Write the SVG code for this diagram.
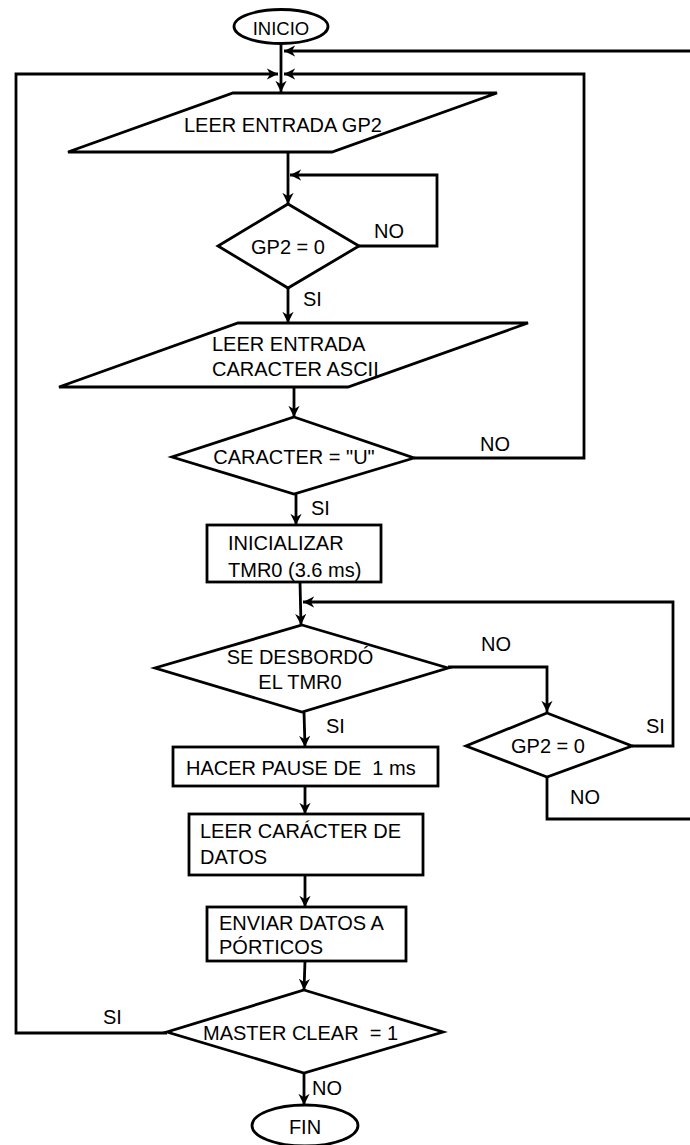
<svg xmlns="http://www.w3.org/2000/svg" width="690" height="1145" viewBox="0 0 690 1145">
<defs>
<marker id="ah" viewBox="0 0 10 10" refX="10" refY="5" markerWidth="4" markerHeight="4" orient="auto" markerUnits="strokeWidth">
<path d="M0,0 L10,5 L0,10 L3,5 z" fill="#000"/>
</marker>
<style>
.s{fill:#fff;stroke:#000;stroke-width:2.8}
.c{fill:none;stroke:#000;stroke-width:2.8}
.a{marker-end:url(#ah)}
text{font-family:"Liberation Sans",Arial,sans-serif;font-size:20px;fill:#000;white-space:pre}
.m{text-anchor:middle}
</style>
</defs>
<rect width="690" height="1145" fill="#fff"/>
<g id="connectors">
<path class="c a" d="M281,44 L281,92"/>
<path class="c a" d="M690,51 L284,51"/>
<path class="c a" d="M167,1033 L16,1033 L16,74 L278,74"/>
<path class="c a" d="M414,458 L584,458 L584,74 L284,74"/>
<path class="c a" d="M288,152 L288,204"/>
<path class="c a" d="M359,246 L437,246 L437,175 L290,175"/>
<path class="c a" d="M288,288 L288,323"/>
<path class="c a" d="M294,387 L294,417"/>
<path class="c a" d="M296,494 L296,525"/>
<path class="c a" d="M300,582 L301,625"/>
<path class="c a" d="M632,746 L673,746 L673,602 L303,602"/>
<path class="c a" d="M448,667 L547,667 L547,712"/>
<path class="c" d="M547,777 L547,819 L690,819"/>
<path class="c a" d="M304,712 L305,747"/>
<path class="c a" d="M305,786 L305,814"/>
<path class="c a" d="M305,875 L305,907"/>
<path class="c a" d="M305,961 L304,990"/>
<path class="c a" d="M304,1073 L304,1105"/>
</g>
<g id="labels">
<text x="374" y="238">NO</text>
<text x="303" y="306">SI</text>
<text x="480" y="451">NO</text>
<text x="311" y="515">SI</text>
<text x="481" y="651">NO</text>
<text x="326" y="733">SI</text>
<text x="646" y="733">SI</text>
<text x="570" y="804">NO</text>
<text x="103" y="1024">SI</text>
<text x="312" y="1095">NO</text>
</g>
<g id="inicio">
<ellipse class="s" cx="281" cy="26.5" rx="47" ry="17"/>
<text class="m" x="281" y="35" style="font-size:18.5px">INICIO</text>
</g>
<g id="leer_gp2">
<polygon class="s" points="233,93 497,93 332,152 68,152"/>
<text x="184" y="132">LEER ENTRADA GP2</text>
</g>
<g id="gp2_cero">
<polygon class="s" points="288,204 359,246 288,288 218,246"/>
<text class="m" x="288" y="254">GP2 = 0</text>
</g>
<g id="leer_ascii">
<polygon class="s" points="238,323 528,323 348,387 59,387"/>
<text x="212" y="351">LEER ENTRADA</text>
<text x="212" y="376">CARACTER ASCII</text>
</g>
<g id="caracter_u">
<polygon class="s" points="294,417 414,458 294,494 172,457"/>
<text class="m" x="294" y="464">CARACTER = "U"</text>
</g>
<g id="inicializar">
<rect class="s" x="207" y="525" width="174" height="57"/>
<text x="228" y="550">INICIALIZAR</text>
<text x="228" y="577">TMR0 (3.6 ms)</text>
</g>
<g id="desbordo">
<polygon class="s" points="302,625 448,668 302,712 155,668"/>
<text class="m" x="300" y="664">SE DESBORDÓ</text>
<text class="m" x="300" y="689">EL TMR0</text>
</g>
<g id="gp2_cero_b">
<polygon class="s" points="547,713 632,746 547,777 466,746"/>
<text class="m" x="548" y="753">GP2 = 0</text>
</g>
<g id="pausa">
<rect class="s" x="173" y="747" width="265" height="39"/>
<text x="186" y="775">HACER PAUSE DE  1 ms</text>
</g>
<g id="leer_datos">
<rect class="s" x="189" y="814" width="234" height="61"/>
<text x="200" y="838">LEER CARÁCTER DE</text>
<text x="200" y="864">DATOS</text>
</g>
<g id="enviar">
<rect class="s" x="207" y="907" width="199" height="54"/>
<text x="219" y="930">ENVIAR DATOS A</text>
<text x="219" y="954">PÓRTICOS</text>
</g>
<g id="master_clear">
<polygon class="s" points="304,990 443,1032 304,1073 167,1032"/>
<text x="203" y="1040">MASTER CLEAR  = 1</text>
</g>
<g id="fin">
<ellipse class="s" cx="305" cy="1125.5" rx="53" ry="20.5"/>
<text class="m" x="305" y="1134">FIN</text>
</g>
</svg>
